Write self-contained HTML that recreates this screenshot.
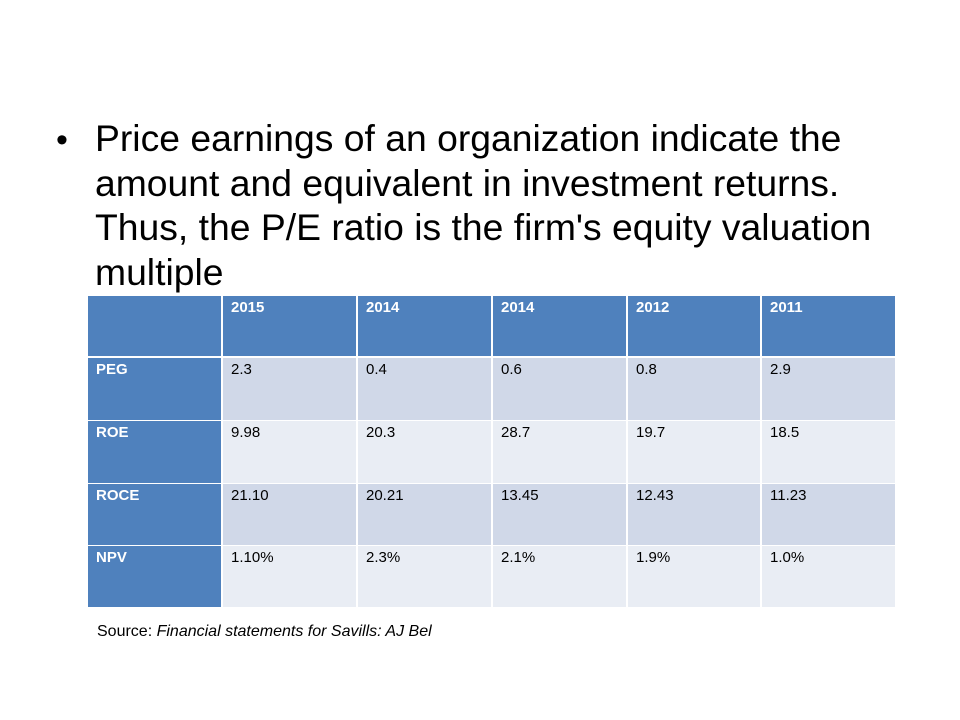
<!DOCTYPE html>
<html><head><style>
body{margin:0;width:960px;height:720px;background:#fff;position:relative;font-family:"Liberation Sans",Arial,sans-serif;overflow:hidden}
.bul{position:absolute;left:56px;top:121px;font-size:34px}
.txt{position:absolute;left:95px;top:116px;width:800px;font-size:37.3px;line-height:44.5px;color:#000}
.c{position:absolute;font-size:15px;box-sizing:border-box;padding:3px 0 0 8px;color:#000}
.h{background:#4f81bd;color:#fff;font-weight:bold}
.o{background:#d0d8e8}.e{background:#e9edf4}
.src{position:absolute;left:97px;top:623px;font-size:16px}
</style></head><body>
<div class="bul">•</div>
<div class="txt">Price earnings of an organization indicate the amount and equivalent in investment returns. Thus, the P/E ratio is the firm's equity valuation multiple</div>
<div id="t"></div>
<div class="src">Source: <i>Financial statements for Savills: AJ Bel</i></div>
<script>
var xs=[88,223,358,493,628,762,895];
var ys=[[296,356],[358,420],[421,483],[484,545],[546,607]];
var d=[["","2015","2014","2014","2012","2011"],["PEG","2.3","0.4","0.6","0.8","2.9"],["ROE","9.98","20.3","28.7","19.7","18.5"],["ROCE","21.10","20.21","13.45","12.43","11.23"],["NPV","1.10%","2.3%","2.1%","1.9%","1.0%"]];
var h="";
for(var r=0;r<5;r++)for(var c=0;c<6;c++){
var cl=(r==0||c==0)?"h":(r%2?"o":"e");
var w=xs[c+1]-xs[c]-(c<5?2:0);
h+='<div class="c '+cl+'" style="left:'+xs[c]+'px;top:'+ys[r][0]+'px;width:'+w+'px;height:'+(ys[r][1]-ys[r][0])+'px">'+d[r][c]+'</div>';}
document.getElementById("t").innerHTML=h;
</script>
</body></html>
